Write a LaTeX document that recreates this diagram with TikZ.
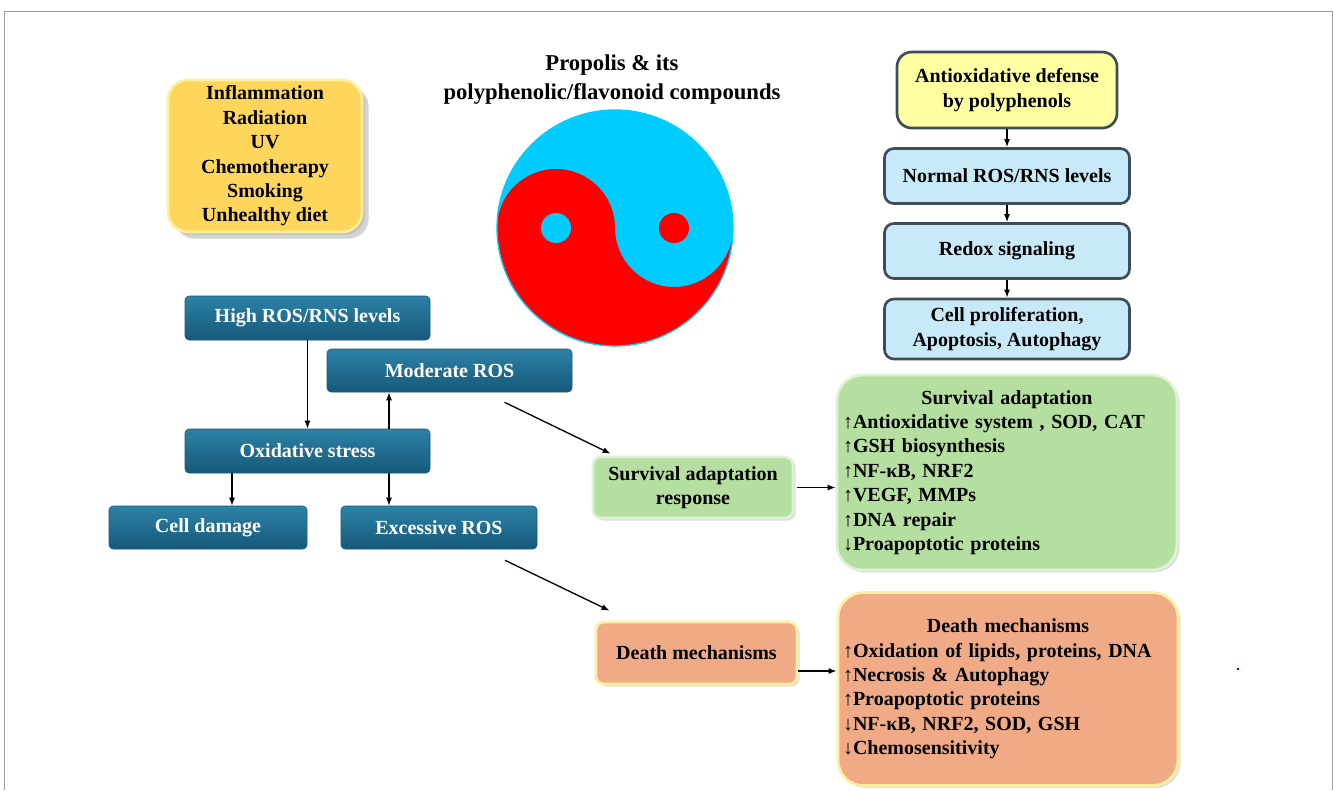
\documentclass[tikz,border=0pt]{standalone}
\usepackage{fontspec}
\setmainfont{Liberation Serif}
\usetikzlibrary{arrows.meta,shadows,positioning}
\definecolor{tealtop}{HTML}{2C82A6}
\definecolor{tealbot}{HTML}{17597A}
\definecolor{gold}{HTML}{FFD65C}
\definecolor{goldrim}{HTML}{FFF0A0}
\definecolor{paleyellow}{HTML}{FFFFA2}
\definecolor{paleblue}{HTML}{C8EAF8}
\definecolor{slate}{HTML}{3E4C58}
\definecolor{leaf}{HTML}{B4DFA0}
\definecolor{salmon}{HTML}{F1AA86}
\definecolor{yycyan}{HTML}{00CCFF}
\definecolor{yyred}{HTML}{FF0000}
\begin{document}
\begin{tikzpicture}[x=0.75pt,y=-0.75pt,
        >={Latex[length=6pt,width=4.5pt]},
        txt/.style={font=\fontsize{15}{18.3}\selectfont\bfseries,align=center,inner sep=0pt},
        darkbox/.style 2 args={txt,text=white,rounded corners=3pt,top color=tealtop,bottom color=tealbot,draw=tealbot,
                minimum width=#1*\pix,minimum height=#2*\pix},
        levelbox/.style 2 args={txt,fill=paleblue,draw=slate,line width=2pt,rounded corners=7pt,
                minimum width=#1*\pix,minimum height=#2*\pix},
        softbox/.style 2 args={txt,draw=white!55!#1,line width=2pt,fill=#1,rounded corners=#2,
                drop shadow={shadow xshift=2pt,shadow yshift=-2pt,opacity=0.25}},
        flow/.style={->,line width=1pt}
    ]
    \def\pix{0.75pt}
    \useasboundingbox (0,0) rectangle (1333,790);
    \draw[gray!75] (4,790) -- (4,11) -- (1332,11) -- (1332,790);
    \fill[blue] (1238,669) circle (1.3);

    % causes
    \node[softbox={gold}{15pt},draw=goldrim,minimum width=194*\pix,minimum height=152*\pix,
        drop shadow={shadow xshift=5pt,shadow yshift=-5pt,opacity=0.35}] (causes) at (265,156)
        {Inflammation\\Radiation\\UV\\Chemotherapy\\Smoking\\Unhealthy diet};

    % propolis
    \node[txt,font=\fontsize{17}{21.8}\selectfont\bfseries] (propolis) at (612,80)
        {Propolis \& its\\polyphenolic/flavonoid compounds};
    \def\cx{615}
    \def\cy{228}
    \def\R{118}
    \fill[yycyan] (\cx,\cy) circle (\R);
    \fill[yyred] (\cx-\R,\cy) arc[start angle=180,end angle=360,radius=\R/2]
        arc[start angle=180,end angle=0,radius=\R/2]
        arc[start angle=0,end angle=180,radius=\R] -- cycle;
    \fill[yycyan] (\cx-\R/2,\cy) circle (15);
    \fill[yyred] (\cx+\R/2,\cy) circle (15);
    \draw[yycyan,line width=1pt] (\cx,\cy) circle (\R);

    % defense column
    \node[levelbox={220}{76},fill=paleyellow,rounded corners=11pt] (defense) at (1007,90)
        {Antioxidative defense\\by polyphenols};
    \node[levelbox={245}{55}] (normal) at (1007,176) {Normal ROS/RNS levels};
    \node[levelbox={245}{55}] (redox) at (1007,251) {Redox signaling};
    \node[levelbox={245}{60}] (prolif) at (1007,329) {Cell proliferation,\\Apoptosis, Autophagy};
    \foreach \a/\b in {defense/normal,normal/redox,redox/prolif}
        \draw[flow] (\a) -- (\b);

    % ROS levels
    \node[darkbox={245}{44}] (high) at (307.5,318) {High ROS/RNS levels};
    \node[darkbox={245}{43}] (moderate) at (449.5,370.5) {Moderate ROS};
    \node[darkbox={245}{44}] (oxid) at (307.5,451) {Oxidative stress};
    \node[darkbox={198}{43}] (damage) at (208,527.5) {Cell damage};
    \node[darkbox={196}{43}] (excess) at (439,527.5) {Excessive ROS};

    \coordinate (colL) at (232,0);
    \coordinate (colR) at (389,0);
    \draw[flow] (high) -- (oxid);
    \draw[flow] (oxid.north -| colR) -- (moderate.south -| colR);
    \draw[flow] (oxid.south -| colL) -- (damage.north -| colL);
    \draw[flow] (oxid.south -| colR) -- (excess.north -| colR);

    % responses
    \node[softbox={leaf}{6pt},minimum width=200*\pix,minimum height=61*\pix] (survival) at (693,487.5)
        {Survival adaptation\\response};
    \node[softbox={salmon}{6pt},draw=goldrim,minimum width=201*\pix,minimum height=62*\pix] (death) at (696.5,653)
        {Death mechanisms};
    \node[softbox={leaf}{19pt},minimum width=340*\pix,minimum height=195*\pix,
        text width=328*\pix,align=left] (survlist) at (1007,472.5)
        {\makebox[\linewidth]{Survival adaptation}\\↑Antioxidative system , SOD, CAT\\↑GSH biosynthesis\\↑NF-κB, NRF2\\↑VEGF, MMPs\\↑DNA repair\\↓Proapoptotic proteins};
    \node[softbox={salmon}{19pt},draw=goldrim,minimum width=340*\pix,minimum height=193*\pix,
        text width=330*\pix,align=left] (deathlist) at (1008,689)
        {\makebox[\linewidth]{Death mechanisms}\\↑Oxidation of lipids, proteins, DNA\\↑Necrosis \& Autophagy\\↑Proapoptotic proteins\\↓NF-κB, NRF2, SOD, GSH\\↓Chemosensitivity};

    \draw[flow] ([shift={(55,10)}]moderate.south) -- ([shift={(19,-2)}]survival.north west);
    \draw[flow] ([shift={(66,11)}]excess.south) -- ([shift={(15,-10)}]death.north west);
    \draw[flow] ([xshift=2pt]survival.east) -- (survival.east -| survlist.west);
    \coordinate (deathout) at ([shift={(0,18)}]death.east);
    \draw[flow] (deathout) -- (deathout -| deathlist.west);
\end{tikzpicture}
\end{document}
